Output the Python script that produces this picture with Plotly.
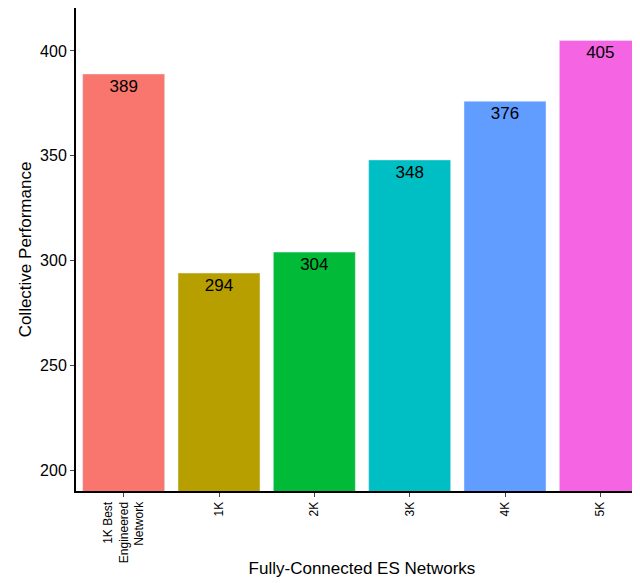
import plotly.graph_objects as go

categories = ["1K Best<br>Engineered<br>Network", "1K", "2K", "3K", "4K", "5K"]
values = [389, 294, 304, 348, 376, 405]
colors = ["#F8766D", "#B79F00", "#00BA38", "#00BFC4", "#619CFF", "#F564E3"]

fig = go.Figure()
fig.add_trace(go.Bar(
    x=categories,
    y=values,
    marker=dict(color=colors),
    text=values,
    textposition="inside",
    insidetextanchor="end",
    textfont=dict(size=17, color="black", family="Liberation Sans"),
    constraintext="none",
    cliponaxis=False,
))

fig.update_layout(
    width=640, height=583,
    plot_bgcolor="white", paper_bgcolor="white",
    margin=dict(l=68, r=0, t=0, b=100),
    bargap=0.14,
    showlegend=False,
    font=dict(family="Liberation Sans", size=16, color="black"),
    xaxis=dict(
        title=dict(text="Fully-Connected ES Networks", font=dict(size=17), standoff=0),
        tickangle=-90, showline=True, linecolor="black", linewidth=2,
        ticks="outside", ticklen=4, tickfont=dict(size=12), automargin=False,
    ),
    yaxis=dict(
        title=dict(text="Collective Performance", font=dict(size=17), standoff=4),
        range=[190, 420.5], tickvals=[200, 250, 300, 350, 400],
        showgrid=False, zeroline=False, showline=True, linecolor="black", linewidth=2,
        ticks="outside", ticklen=4, tickfont=dict(size=16), automargin=False,
    ),
)

fig.write_html("out.html")
